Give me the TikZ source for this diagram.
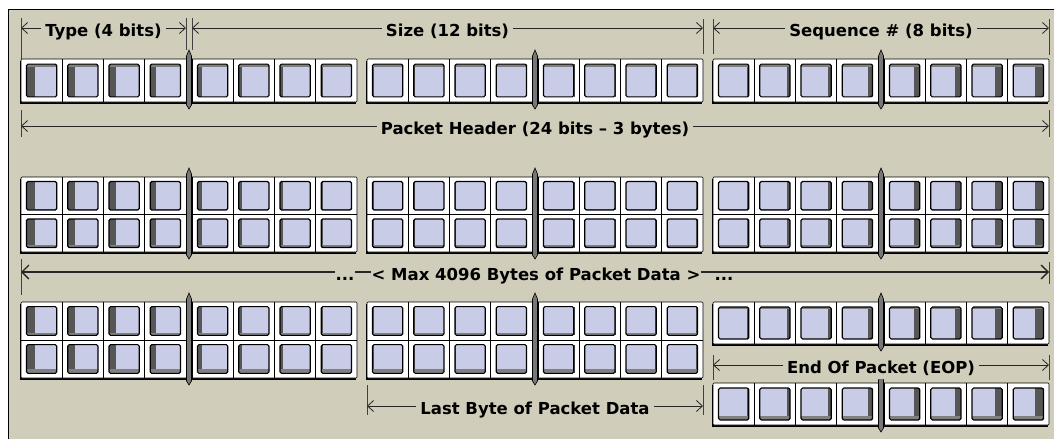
\documentclass[tikz,border=0pt]{standalone}
\usepackage{fontspec}
\setmainfont{DejaVu Sans}
\usetikzlibrary{arrows.meta}

\definecolor{panel}{HTML}{D0CEBA}
\definecolor{bitface}{HTML}{C9CCE6}
\definecolor{bitwall}{HTML}{565656}
\definecolor{rodgray}{HTML}{777777}

\newcommand{\bytebox}[3]{%
  \fill[black] (#1-1.5,#2+2) rectangle (#1+335,#2+#3+2);
  \draw[fill=white, line width=0.6pt, rounded corners=1pt] (#1,#2) rectangle (#1+336,#2+#3);
  \foreach \b in {1,2,3,4,5,6,7}{
    \draw[line width=0.6pt] ({#1+\b*41.25+(\b>3)*6},#2) -- ++(0,#3);
  }
}
\newcommand{\bitrow}[4]{%
  \foreach \b in {0,...,7}{
    \pgfmathsetmacro{\cellx}{#1+\b*41.25+(\b>3)*6}
    \pgfmathsetmacro{\facel}{\cellx+5.5}
    \pgfmathsetmacro{\facer}{\cellx+35.75}
    \pgfmathsetmacro{\facet}{#2+0.12*#3}
    \pgfmathsetmacro{\faceb}{#2+0.88*#3}
    \pgfmathsetmacro{\persp}{(\cellx+20.6-535)/510}
    \pgfmathsetmacro{\wallw}{9*pow(abs(\persp),1.5)}
    \pgfmathsetmacro{\wallx}{\persp<0 ? \facel : \facer-\wallw}
    \pgfmathsetmacro{\wallh}{abs(#4)}
    \pgfmathsetmacro{\wally}{#4>0 ? \facet : \faceb-\wallh}
    \fill[bitface] (\facel,\facet) rectangle (\facer,\faceb);
    \fill[bitwall] (\wallx,\facet) rectangle (\wallx+\wallw,\faceb);
    \fill[bitwall!75] (\facel,\wally) rectangle (\facer,\wally+\wallh);
    \draw[line width=1.1pt, rounded corners=1.5pt] (\facel,\facet) rectangle (\facer,\faceb);
  }
}
\newcommand{\nibrod}[3]{%
  \draw[fill=rodgray, line width=0.6pt] (#1+168,#2-9) -- (#1+170.5,#2-3) -- (#1+170.5,#3+3)
    -- (#1+168,#3+7) -- (#1+165.5,#3+3) -- (#1+165.5,#2-3) -- cycle;
}

\begin{document}
\begin{tikzpicture}
[x=1pt, y=-1pt,
 dimline/.style={draw=black!85, line width=0.8pt, {Straight Barb[length=6pt,width=11pt]}-{Straight Barb[length=6pt,width=11pt]}},
 extline/.style={draw=black!75, line width=0.8pt},
 dimlabel/.style={fill=panel, inner xsep=4pt, inner ysep=1pt, text height=12.5pt, text depth=4pt, yshift=-4.5pt, font=\bfseries\fontsize{16.5}{18}\selectfont}]
\useasboundingbox (0,0) rectangle (1054,439);
\fill[white] (0,0) rectangle (1054,439);
\fill[panel] (8,9) rectangle (1054,439);
\draw[line width=1pt] (8,439) -- (8,9) -- (1054,9);

\foreach \x in {21,367,713}{
  \bytebox{\x}{59}{43}
  \bitrow{\x}{59}{43}{3}
  \nibrod{\x}{59}{102}
}
\foreach \x in {21,367,713}{
  \bytebox{\x}{177}{75}
  \bitrow{\x}{177}{37.5}{-1.5}
  \bitrow{\x}{214.5}{37.5}{-3}
  \draw[line width=0.6pt] (\x,214.5) -- ++(336,0);
  \nibrod{\x}{177}{252}
}
\foreach \x in {21,367}{
  \bytebox{\x}{302}{76}
  \bitrow{\x}{302}{38}{-2}
  \bitrow{\x}{340}{38}{-4}
  \draw[line width=0.6pt] (\x,340) -- ++(336,0);
  \nibrod{\x}{302}{378}
}
\bytebox{713}{302}{42}
\bitrow{713}{302}{42}{2}
\nibrod{713}{302}{344}
\bytebox{713}{383}{42}
\bitrow{713}{383}{42}{-4}
\nibrod{713}{383}{425}

\coordinate (typeL) at (21,28);
\coordinate (typeR) at (186,28);
\coordinate (sizeL) at (192,28);
\coordinate (sizeR) at (703,28);
\coordinate (seqL) at (713,28);
\coordinate (seqR) at (1049,28);
\coordinate (hdrL) at (21,126);
\coordinate (hdrR) at (1049,126);
\coordinate (maxL) at (21,272);
\coordinate (maxR) at (1049,272);
\coordinate (eopL) at (713,365);
\coordinate (eopR) at (1049,365);
\coordinate (lastL) at (367,406);
\coordinate (lastR) at (703,406);

\draw[extline] (typeL) ++(0,-10) -- ++(0,41);
\draw[extline] (typeR) ++(0,-10) -- ++(0,32);
\draw[extline] (sizeL) ++(0,-10) -- ++(0,32);
\draw[extline] (sizeR) ++(0,-9) -- ++(0,35);
\draw[extline] (seqL) ++(0,-9) -- ++(0,35);
\draw[extline] (seqR) ++(0,-9) -- ++(0,36);
\draw[extline] (hdrL) ++(0,-16) -- ++(0,27);
\draw[extline] (hdrR) ++(0,-16) -- ++(0,27);
\draw[extline] (maxL) ++(0,-13) -- ++(0,36);
\draw[extline] (maxR) ++(0,-10) -- ++(0,22);
\draw[extline] (eopL) ++(0,-10) -- ++(0,25);
\draw[extline] (eopR) ++(0,-10) -- ++(0,25);
\draw[extline] (lastL) ++(0,-21) -- ++(0,30);
\draw[extline] (lastR) ++(0,-21) -- ++(0,30);

\draw[dimline] (typeL) -- node[dimlabel] (typeT) {Type (4 bits)} (typeR);
\draw[dimline] (sizeL) -- node[dimlabel] (sizeT) {Size (12 bits)} (sizeR);
\draw[dimline] (seqL) -- node[dimlabel] (seqT) {Sequence \# (8 bits)} (seqR);
\draw[dimline] (hdrL) -- node[dimlabel] (hdrT) {Packet Header (24 bits – 3 bytes)} (hdrR);
\draw[dimline, line width=1.3pt, {Straight Barb[length=7pt,width=14pt]}-{Straight Barb[length=7pt,width=14pt]}] (maxL) -- (maxR);
\node[dimlabel, inner xsep=1pt] (maxT) at (536,272) {< Max 4096 Bytes of Packet Data >};
\node[dimlabel, inner xsep=1pt] (dotsL) at (345,272) {...};
\node[dimlabel, fill=none] (dotsR) at (724,272) {...};
\draw[dimline] (eopL) -- node[dimlabel] (eopT) {End Of Packet (EOP)} (eopR);
\draw[dimline] (lastL) -- node[dimlabel] (lastT) {Last Byte of Packet Data} (lastR);
\end{tikzpicture}
\end{document}
